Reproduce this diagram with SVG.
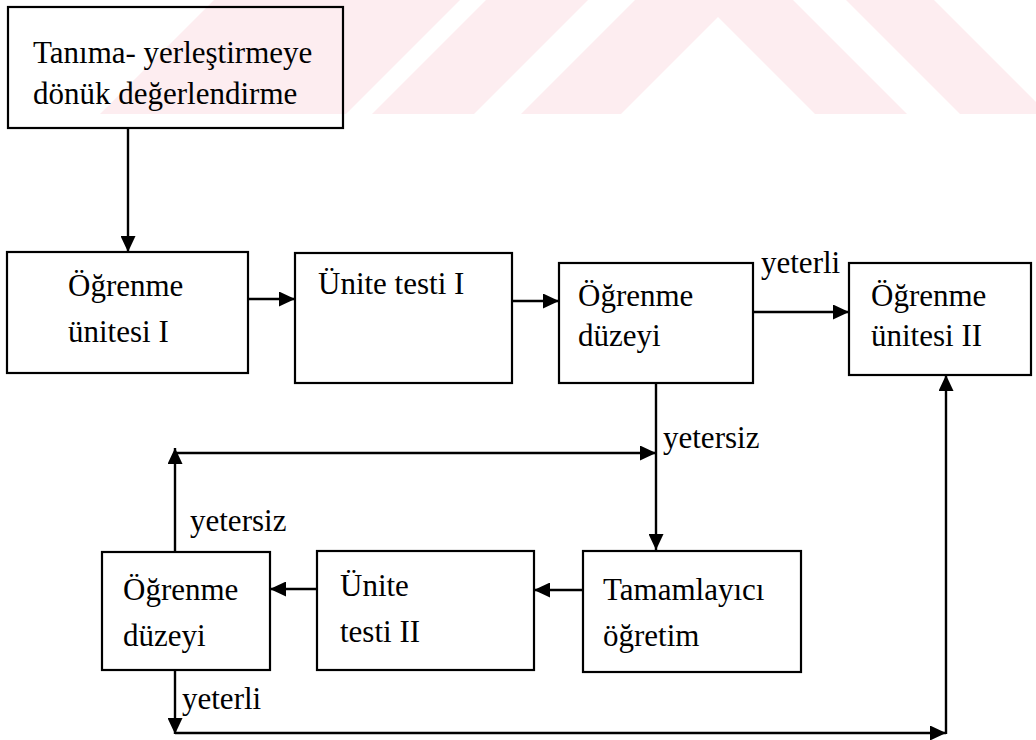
<svg xmlns="http://www.w3.org/2000/svg" width="1036" height="740" viewBox="0 0 1036 740">
<style>
.box{fill:none;stroke:#000;stroke-width:2.2}
.t{font-family:"Times New Roman","Liberation Serif","DejaVu Serif",serif;font-size:31px;fill:#000}
.c{fill:none;stroke:#000;stroke-width:2.4}
.wm{fill:#fdedf0}
</style>
<defs>
<marker id="ah" markerUnits="userSpaceOnUse" markerWidth="17" markerHeight="15" refX="16" refY="7.5" orient="auto">
<path d="M0,0 L16,7.5 L0,15 z" fill="#000"/>
</marker>
</defs>
<rect width="1036" height="740" fill="#fff"/>
<g id="watermark">
<polygon class="wm" points="100,114 214,0 460,0 346,114"/>
<polygon class="wm" points="372,114 486,0 588,0 474,114"/>
<polygon class="wm" points="521,114 635,0 793,0 907,114 815,114 718,17 621,114"/>
<polygon class="wm" points="846,0 934,0 1048,114 960,114"/>
</g>
<g id="connectors">
<path class="c" d="M128,128 V252" marker-end="url(#ah)"/>
<path class="c" d="M248,299 H295" marker-end="url(#ah)"/>
<path class="c" d="M512,301 H559" marker-end="url(#ah)"/>
<path class="c" d="M753,312 H849" marker-end="url(#ah)"/>
<path class="c" d="M656,383 V550" marker-end="url(#ah)"/>
<path class="c" d="M175,552 V448" marker-end="url(#ah)"/>
<path class="c" d="M174,453 H656" marker-end="url(#ah)"/>
<path class="c" d="M583,590 H534" marker-end="url(#ah)"/>
<path class="c" d="M317,589 H270" marker-end="url(#ah)"/>
<path class="c" d="M175,670 V734" marker-end="url(#ah)"/>
<path class="c" d="M175,733 H946" marker-end="url(#ah)"/>
<path class="c" d="M946,734 V375" marker-end="url(#ah)"/>
<text class="t" x="761" y="273">yeterli</text>
<text class="t" x="663" y="448">yetersiz</text>
<text class="t" x="190" y="531">yetersiz</text>
<text class="t" x="182" y="709">yeterli</text>
</g>
<g id="n1">
<rect class="box" x="8" y="7" width="335" height="121"/>
<text class="t" x="33" y="63">Tanıma- yerleştirmeye</text>
<text class="t" x="33" y="104">dönük değerlendirme</text>
</g>
<g id="n2">
<rect class="box" x="7" y="252" width="241" height="121"/>
<text class="t" x="68" y="296">Öğrenme</text>
<text class="t" x="68" y="342">ünitesi I</text>
</g>
<g id="n3">
<rect class="box" x="295" y="253" width="217" height="130"/>
<text class="t" x="318" y="294">Ünite testi I</text>
</g>
<g id="n4">
<rect class="box" x="559" y="263" width="194" height="120"/>
<text class="t" x="578" y="306">Öğrenme</text>
<text class="t" x="578" y="346">düzeyi</text>
</g>
<g id="n5">
<rect class="box" x="849" y="263" width="182" height="112"/>
<text class="t" x="871" y="306">Öğrenme</text>
<text class="t" x="871" y="346">ünitesi II</text>
</g>
<g id="n6">
<rect class="box" x="102" y="552" width="168" height="118"/>
<text class="t" x="123" y="600">Öğrenme</text>
<text class="t" x="123" y="646">düzeyi</text>
</g>
<g id="n7">
<rect class="box" x="317" y="551" width="217" height="119"/>
<text class="t" x="340" y="596">Ünite</text>
<text class="t" x="340" y="642">testi II</text>
</g>
<g id="n8">
<rect class="box" x="583" y="551" width="218" height="121"/>
<text class="t" x="603" y="600">Tamamlayıcı</text>
<text class="t" x="603" y="646">öğretim</text>
</g>
</svg>
